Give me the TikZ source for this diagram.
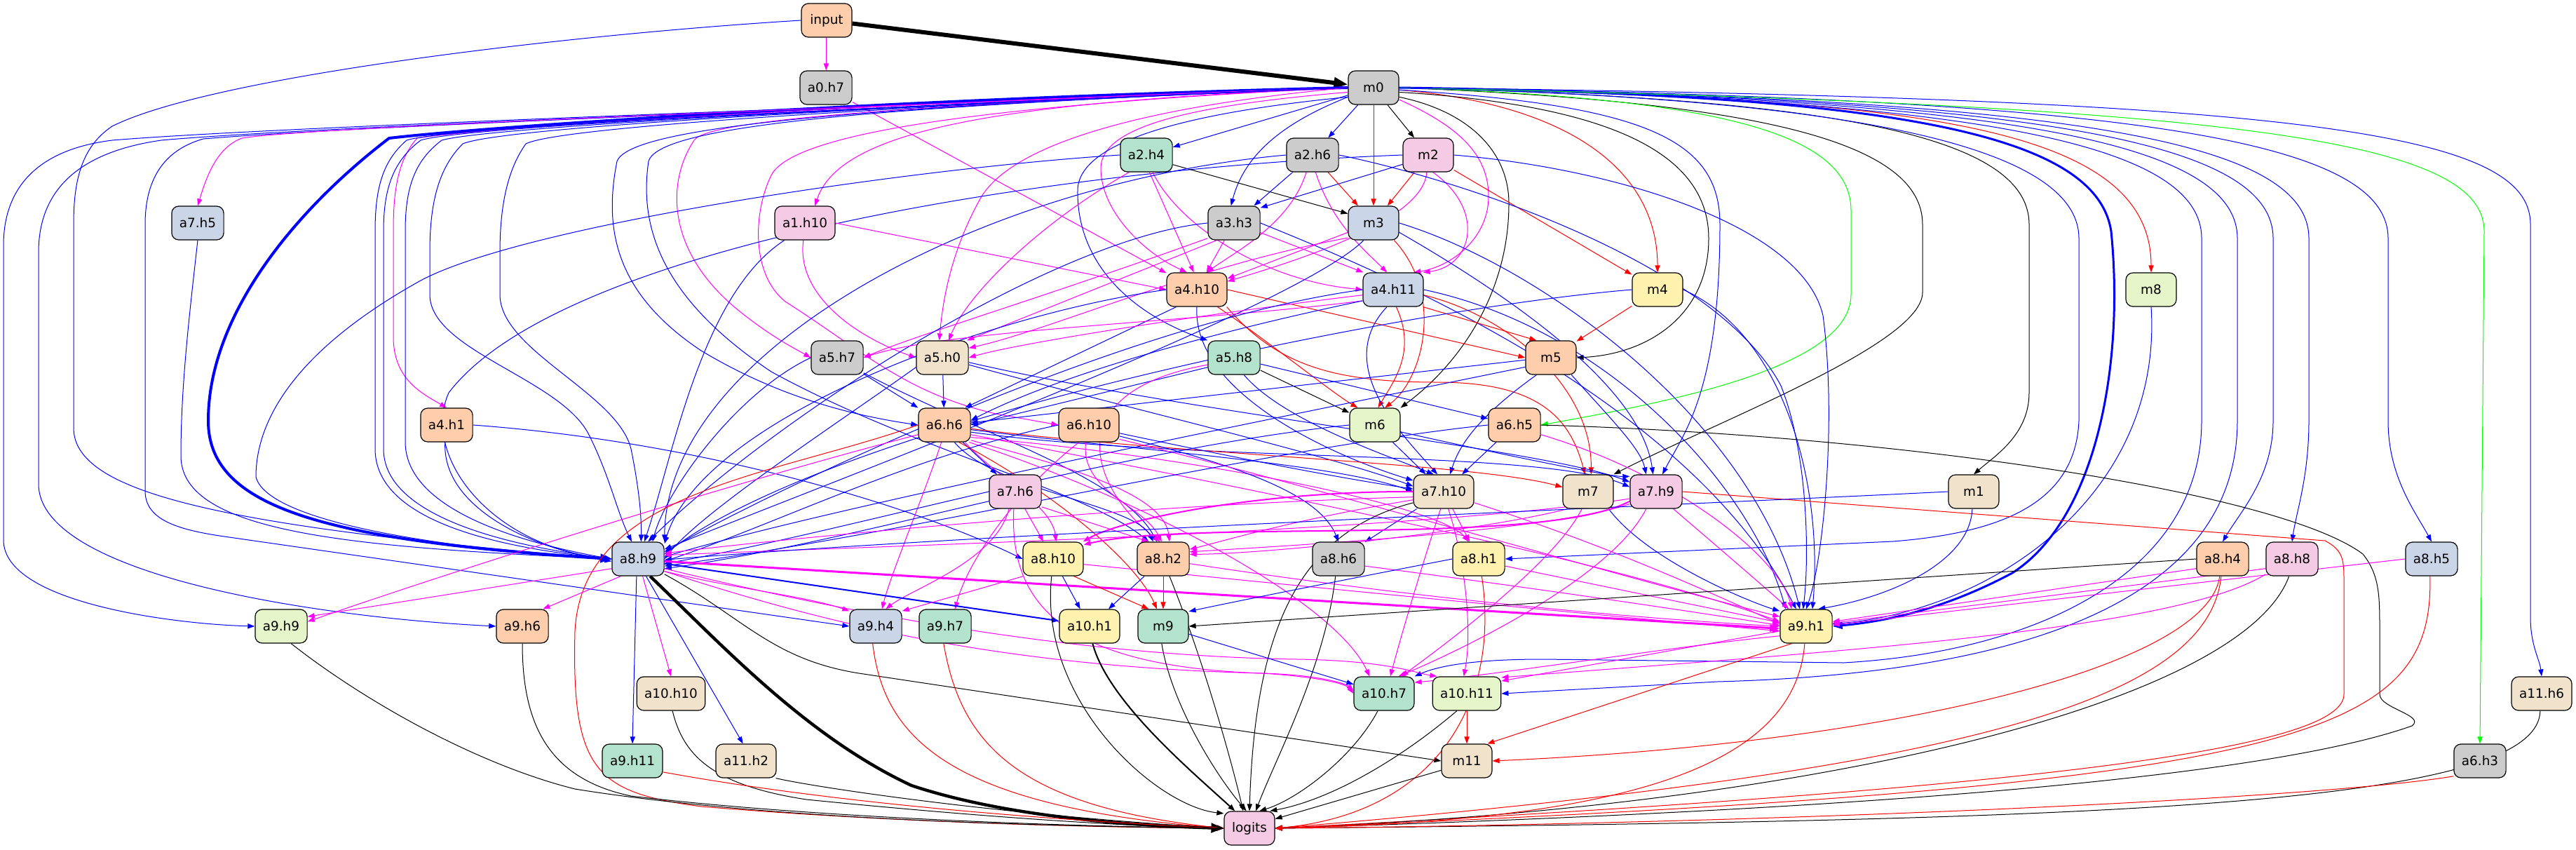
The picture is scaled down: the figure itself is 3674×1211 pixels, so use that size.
\documentclass[tikz,border=0pt]{standalone}
\usepackage{fontspec}
\newfontfamily\dvs{DejaVu Sans}
\usetikzlibrary{arrows.meta}
\definecolor{cG}{HTML}{B3E2CD}
\definecolor{cO}{HTML}{FDCDAC}
\definecolor{cB}{HTML}{CBD5E8}
\definecolor{cP}{HTML}{F4CAE4}
\definecolor{cL}{HTML}{E6F5C9}
\definecolor{cY}{HTML}{FFF2AE}
\definecolor{cT}{HTML}{F1E2CC}
\definecolor{cK}{HTML}{CCCCCC}
\definecolor{eB}{RGB}{0,0,255}
\definecolor{eM}{RGB}{255,0,255}
\definecolor{eR}{RGB}{255,0,0}
\definecolor{eG}{RGB}{0,255,0}
\pgfdeclarelayer{bg}
\pgfsetlayers{bg,main}
\newcommand{\nodefont}{\dvs\fontsize{9.2}{11}\selectfont}
\tikzset{
 nd/.style={draw=black, line width=0.6pt, rounded corners=5pt, minimum width=36pt, minimum height=24pt, inner xsep=5.5pt, inner ysep=0pt, font=\nodefont},
 ar/.style={-{Triangle[length=5pt,width=3.6pt]}, line width=0.5pt},
 B/.style={ar, draw=eB},
 M/.style={ar, draw=eM},
 R/.style={ar, draw=eR},
 K/.style={ar, draw=black},
 G/.style={ar, draw=eG},
}
\begin{document}
\begin{tikzpicture}[x=0.5pt,y=0.5pt]
\useasboundingbox (0,0) rectangle (3674,-1211);
\node[nd,fill=cO] (input) at (1179,-29) {input};
\node[nd,fill=cK] (a0h7) at (1178,-125) {a0.h7};
\node[nd,fill=cK] (m0) at (1959,-125) {m0};
\node[nd,fill=cG] (a2h4) at (1635,-221) {a2.h4};
\node[nd,fill=cK] (a2h6) at (1872,-221) {a2.h6};
\node[nd,fill=cP] (m2) at (2037,-221) {m2};
\node[nd,fill=cB] (a7h5) at (282,-318) {a7.h5};
\node[nd,fill=cP] (a1h10) at (1148,-318) {a1.h10};
\node[nd,fill=cK] (a3h3) at (1760,-318) {a3.h3};
\node[nd,fill=cB] (m3) at (1959,-318) {m3};
\node[nd,fill=cO] (a4h10) at (1707,-413) {a4.h10};
\node[nd,fill=cB] (a4h11) at (1987,-413) {a4.h11};
\node[nd,fill=cY] (m4) at (2364,-413) {m4};
\node[nd,fill=cL] (m8) at (3068,-413) {m8};
\node[nd,fill=cK] (a5h7) at (1194,-510) {a5.h7};
\node[nd,fill=cT] (a5h0) at (1344,-510) {a5.h0};
\node[nd,fill=cG] (a5h8) at (1760,-510) {a5.h8};
\node[nd,fill=cO] (m5) at (2212,-510) {m5};
\node[nd,fill=cO] (a4h1) at (637,-606) {a4.h1};
\node[nd,fill=cO] (a6h6) at (1347,-606) {a6.h6};
\node[nd,fill=cO] (a6h10) at (1553,-606) {a6.h10};
\node[nd,fill=cL] (m6) at (1961,-606) {m6};
\node[nd,fill=cO] (a6h5) at (2160,-606) {a6.h5};
\node[nd,fill=cP] (a7h6) at (1448,-701) {a7.h6};
\node[nd,fill=cT] (a7h10) at (2059,-701) {a7.h10};
\node[nd,fill=cT] (m7) at (2265,-701) {m7};
\node[nd,fill=cP] (a7h9) at (2362,-701) {a7.h9};
\node[nd,fill=cT] (m1) at (2815,-701) {m1};
\node[nd,fill=cB] (a8h9) at (910,-797) {a8.h9};
\node[nd,fill=cY] (a8h10) at (1502,-797) {a8.h10};
\node[nd,fill=cO] (a8h2) at (1659,-797) {a8.h2};
\node[nd,fill=cK] (a8h6) at (1909,-797) {a8.h6};
\node[nd,fill=cY] (a8h1) at (2109,-797) {a8.h1};
\node[nd,fill=cO] (a8h4) at (3170,-797) {a8.h4};
\node[nd,fill=cP] (a8h8) at (3269,-797) {a8.h8};
\node[nd,fill=cB] (a8h5) at (3468,-797) {a8.h5};
\node[nd,fill=cL] (a9h9) at (401,-893) {a9.h9};
\node[nd,fill=cO] (a9h6) at (745,-893) {a9.h6};
\node[nd,fill=cB] (a9h4) at (1249,-893) {a9.h4};
\node[nd,fill=cG] (a9h7) at (1348,-893) {a9.h7};
\node[nd,fill=cY] (a10h1) at (1554,-893) {a10.h1};
\node[nd,fill=cG] (m9) at (1659,-893) {m9};
\node[nd,fill=cY] (a9h1) at (2576,-893) {a9.h1};
\node[nd,fill=cT] (a10h10) at (957,-989) {a10.h10};
\node[nd,fill=cG] (a10h7) at (1974,-989) {a10.h7};
\node[nd,fill=cL] (a10h11) at (2092,-989) {a10.h11};
\node[nd,fill=cT] (a11h6) at (3625,-989) {a11.h6};
\node[nd,fill=cG] (a9h11) at (902,-1085) {a9.h11};
\node[nd,fill=cT] (a11h2) at (1064,-1085) {a11.h2};
\node[nd,fill=cT] (m11) at (2092,-1085) {m11};
\node[nd,fill=cK] (a6h3) at (3537,-1085) {a6.h3};
\node[nd,fill=cP] (logits) at (1782,-1181) {logits};
\begin{pgfonlayer}{bg}
% input
\draw[K, line width=3pt, -{Triangle[length=10pt,width=7.5pt]}] (input) -- (m0);
\draw[M] (input) -- (a0h7);
\draw[B] (input.west) .. controls (800,-50) and (300,-110) .. (160,-180) .. controls (115,-210) and (105,-260) .. (105,-320) -- (105,-610) .. controls (105,-700) and (300,-750) .. (a8h9.west);
\draw[M] (a0h7) -- (a4h10);
% m0 local
\draw[B] (m0) -- (a2h4);
\draw[B] (m0) -- (a2h6);
\draw[K] (m0) -- (m2);
\draw[R] (m0) -- (m3);
\draw[B] (m0.200) .. controls (1830,-175) and (1775,-220) .. (a3h3.100);
\draw[M] (m0.190) .. controls (1700,-150) and (1570,-180) .. (1570,-240) .. controls (1570,-300) and (1630,-360) .. (a4h10.120);
\draw[M] (m0.-25) .. controls (2080,-180) and (2123,-220) .. (2123,-280) .. controls (2123,-340) and (2070,-380) .. (a4h11.40);
\draw[R] (m0.-5) .. controls (2250,-150) and (2364,-250) .. (m4.north);
\draw[R] (m0.east) .. controls (2700,-140) and (3068,-170) .. (m8.north);
% m0 right fan
\draw[K] (m0.-10) .. controls (2300,-150) and (2437,-220) .. (2437,-340) .. controls (2437,-450) and (2350,-505) .. (m5.east);
\draw[K] (m0.-20) .. controls (2100,-160) and (2152,-220) .. (2152,-290) .. controls (2152,-420) and (2080,-520) .. (m6.north east);
\draw[K] (m0.east) .. controls (2500,-145) and (2742,-200) .. (2742,-320) -- (2742,-417) .. controls (2742,-490) and (2450,-600) .. (m7.north east);
\draw[G] (m0.east) .. controls (2450,-140) and (2640,-190) .. (2640,-300) -- (2640,-420) .. controls (2640,-520) and (2400,-570) .. (a6h5.east);
\draw[B] (m0.-5) .. controls (2350,-150) and (2453,-200) .. (2453,-320) .. controls (2453,-560) and (2400,-620) .. (a7h9.70);
\draw[K] (m0.east) .. controls (2600,-140) and (2894,-190) .. (2894,-320) -- (2894,-560) .. controls (2894,-620) and (2845,-650) .. (m1.north);
\draw[B] (m0.east) .. controls (2650,-140) and (2965,-210) .. (2965,-340) -- (2965,-600) .. controls (2960,-720) and (2850,-760) .. (2700,-772) -- (a8h1.east);
\draw[B, line width=1.5pt, -{Triangle[length=7pt,width=5pt]}] (m0.east) .. controls (2700,-135) and (2990,-190) .. (3011,-330) .. controls (3030,-520) and (2990,-740) .. (2870,-817) .. controls (2780,-865) and (2700,-885) .. (a9h1.east);
\draw[B] (m0.east) .. controls (2800,-140) and (3140,-200) .. (3140,-340) -- (3140,-600) .. controls (3140,-820) and (2900,-930) .. (2629,-945) -- (2200,-940) .. controls (2100,-940) and (2050,-950) .. (a10h7.north east);
\draw[B] (m0.east) .. controls (2850,-140) and (3191,-200) .. (3191,-340) -- (3191,-600) .. controls (3191,-850) and (2900,-960) .. (2449,-972) -- (a10h11.east);
\draw[B] (m0.east) .. controls (2900,-140) and (3242,-200) .. (3242,-340) -- (3242,-600) .. controls (3242,-680) and (3195,-730) .. (a8h4.north);
\draw[B] (m0.east) .. controls (2950,-140) and (3293,-200) .. (3293,-340) -- (3293,-600) .. controls (3293,-680) and (3275,-730) .. (a8h8.north);
\draw[B] (m0.east) .. controls (3050,-140) and (3406,-200) .. (3406,-340) -- (3406,-600) .. controls (3406,-680) and (3445,-730) .. (a8h5.north);
\draw[G] (m0.east) .. controls (3200,-150) and (3543,-200) .. (3543,-330) -- (a6h3.north);
\draw[B] (m0.east) .. controls (3300,-140) and (3609,-190) .. (3609,-320) -- (3609,-880) .. controls (3609,-920) and (3622,-940) .. (a11h6.north);
% m0 left fan
\draw[B] (m0.west) .. controls (1300,-150) and (400,-180) .. (160,-200) .. controls (40,-215) and (5,-280) .. (5,-350) -- (5,-770) .. controls (5,-860) and (250,-890) .. (a9h9.west);
\draw[B] (m0.west) .. controls (1300,-150) and (450,-180) .. (230,-200) .. controls (90,-220) and (55,-290) .. (55,-360) -- (55,-690) .. controls (55,-820) and (450,-880) .. (a9h6.west);
\draw[B] (m0.west) .. controls (1300,-150) and (500,-180) .. (290,-198) .. controls (230,-215) and (207,-260) .. (207,-320) -- (207,-700) .. controls (207,-740) and (250,-755) .. (320,-765) -- (a9h4.west);
\draw[B, line width=2pt, -{Triangle[length=8pt,width=6pt]}] (m0.west) .. controls (1300,-140) and (700,-180) .. (555,-197) .. controls (420,-300) and (297,-450) .. (297,-600) .. controls (297,-720) and (450,-770) .. (a8h9.west);
\draw[M] (m0.west) .. controls (1300,-150) and (450,-180) .. (345,-197) .. controls (310,-210) and (295,-250) .. (a7h5.north);
\draw[M] (m0.west) .. controls (1300,-145) and (700,-180) .. (595,-197) .. controls (565,-230) and (561,-280) .. (561,-330) -- (561,-480) .. controls (561,-540) and (600,-560) .. (a4h1.north);
\draw[B] (m0.west) .. controls (1300,-150) and (640,-180) .. (580,-200) .. controls (545,-230) and (535,-270) .. (535,-330) -- (535,-640) .. controls (535,-740) and (700,-780) .. (a8h9.west);
\draw[B] (m0.west) .. controls (1300,-150) and (660,-180) .. (600,-200) .. controls (560,-230) and (547,-270) .. (547,-330) -- (547,-640) .. controls (547,-730) and (700,-775) .. (a8h9.west);
\draw[B] (m0.west) .. controls (1300,-150) and (700,-180) .. (630,-200) .. controls (590,-230) and (578,-270) .. (578,-330) -- (578,-630) .. controls (578,-720) and (720,-770) .. (a8h9.west);
\draw[B] (m0.west) .. controls (1300,-150) and (720,-180) .. (660,-205) .. controls (625,-240) and (613,-290) .. (613,-360) -- (613,-420) .. controls (613,-500) and (800,-540) .. (840,-620) .. controls (870,-680) and (880,-730) .. (a8h9.110);
\draw[B] (m0.west) .. controls (1300,-150) and (800,-180) .. (750,-205) .. controls (725,-240) and (713,-290) .. (713,-360) -- (713,-420) .. controls (713,-500) and (880,-560) .. (900,-640) .. controls (910,-690) and (915,-730) .. (a8h9.80);
\draw[M] (m0.west) .. controls (1450,-145) and (1200,-180) .. (a1h10.60);
\draw[M] (m0.west) .. controls (1300,-150) and (1010,-170) .. (990,-200) .. controls (950,-260) and (950,-360) .. (1055,-444) .. controls (1100,-480) and (1130,-495) .. (a5h7.west);
\draw[M] (m0.west) .. controls (1400,-150) and (1130,-190) .. (1100,-250) .. controls (1075,-300) and (1070,-390) .. (1120,-430) .. controls (1230,-500) and (1290,-560) .. (1420,-590) -- (a6h10.west);
\draw[M] (m0.west) .. controls (1650,-150) and (1450,-200) .. (1400,-280) .. controls (1360,-350) and (1345,-420) .. (a5h0.100);
\draw[B] (m0.west) .. controls (1300,-150) and (900,-175) .. (880,-230) .. controls (860,-330) and (880,-420) .. (1000,-500) .. controls (1100,-560) and (1200,-590) .. (a6h6.west);
\draw[B] (m0.west) .. controls (1300,-150) and (940,-175) .. (925,-230) .. controls (910,-330) and (950,-430) .. (1100,-530) .. controls (1300,-640) and (1550,-700) .. (a8h2.130);
\draw[B] (m0.200) .. controls (1700,-160) and (1540,-200) .. (1537,-270) .. controls (1535,-380) and (1620,-450) .. (a5h8.north west);
% m2
\draw[B] (m2.200) -- (a3h3.30);
\draw[R] (m2) -- (m3);
\draw[M] (m2.-95) .. controls (2030,-320) and (1820,-380) .. (a4h10.15);
\draw[M] (m2.-75) .. controls (2120,-300) and (2100,-380) .. (a4h11.30);
\draw[R] (m2) -- (m4);
\draw[B] (m2.east) .. controls (2300,-240) and (2570,-320) .. (2600,-450) .. controls (2620,-600) and (2600,-800) .. (a9h1.north);
\draw[B] (m2.west) .. controls (1500,-240) and (800,-350) .. (640,-560) .. controls (600,-650) and (700,-780) .. (a8h9.west);
% a2h4
\draw[K] (a2h4.-20) -- (m3.160);
\draw[M] (a2h4.-80) -- (a4h10.100);
\draw[M] (a2h4.-70) .. controls (1680,-320) and (1800,-400) .. (a4h11.west);
\draw[M] (a2h4.-135) .. controls (1480,-320) and (1380,-420) .. (a5h0.70);
\draw[B] (a2h4.west) .. controls (1300,-240) and (750,-320) .. (600,-400) .. controls (420,-500) and (365,-600) .. (365,-680) .. controls (380,-740) and (600,-780) .. (a8h9.west);
% a2h6
\draw[B] (a2h6) -- (a3h3);
\draw[R] (a2h6) -- (m3);
\draw[M] (a2h6.-110) .. controls (1840,-320) and (1760,-360) .. (a4h10.60);
\draw[M] (a2h6.-80) .. controls (1900,-320) and (1950,-360) .. (a4h11.110);
\draw[B] (a2h6.west) .. controls (1400,-260) and (950,-500) .. (a8h9.north east);
\draw[B] (a2h6.east) .. controls (2100,-260) and (2450,-380) .. (2540,-550) .. controls (2580,-650) and (2580,-800) .. (a9h1.100);
% a1h10
\draw[M] (a1h10.east) -- (a4h10.west);
\draw[M] (a1h10.-95) .. controls (1135,-420) and (1220,-480) .. (a5h0.west);
\draw[B] (a1h10.220) .. controls (1000,-420) and (960,-650) .. (a8h9.70);
% a3h3
\draw[M] (a3h3) -- (a4h10);
\draw[M] (a3h3.-20) -- (a4h11.150);
\draw[M] (a3h3.225) -- (a5h0.35);
\draw[M] (a3h3.210) .. controls (1500,-420) and (1300,-480) .. (a5h7.east);
\draw[B] (a3h3.west) .. controls (1500,-340) and (1100,-600) .. (a8h9.60);
\draw[B] (a3h3.east) .. controls (1950,-380) and (2400,-560) .. (a9h1.120);
% m3
\draw[M] (m3.200) -- (a4h10.20);
\draw[M] (m3.210) .. controls (1700,-380) and (1500,-470) .. (a5h0.20);
\draw[R] (m3.-40) .. controls (2060,-420) and (2030,-540) .. (m6.60);
\draw[B] (m3.-120) .. controls (1850,-440) and (1150,-700) .. (a8h9.20);
\draw[B] (m3.east) .. controls (2200,-380) and (2500,-600) .. (a9h1.110);
\draw[B] (m3.-20) .. controls (2150,-420) and (2340,-550) .. (a7h9.100);
% a4h10
\draw[B] (a4h10.-140) -- (a6h6.40);
\draw[R] (a4h10.east) -- (m5.west);
\draw[R] (a4h10.-40) .. controls (1800,-480) and (1900,-560) .. (m6.135);
\draw[R] (a4h10.-30) .. controls (1820,-520) and (1900,-545) .. (2050,-545) .. controls (2200,-545) and (2240,-600) .. (m7.100);
\draw[B] (a4h10.-90) .. controls (1700,-560) and (1900,-650) .. (a7h10.160);
\draw[B] (a4h10.west) .. controls (1400,-450) and (1000,-600) .. (a8h9.30);
% a4h11
\draw[M] (a4h11.190) .. controls (1700,-450) and (1450,-490) .. (a5h0.east);
\draw[M] (a4h11.200) .. controls (1700,-460) and (1350,-470) .. (a5h7.east);
\draw[R] (a4h11.-30) -- (m5.130);
\draw[R] (a4h11.-80) .. controls (2020,-500) and (1990,-540) .. (m6.80);
\draw[R] (a4h11.-10) .. controls (2150,-450) and (2270,-550) .. (m7.80);
\draw[B] (a4h11.200) .. controls (1700,-480) and (1500,-540) .. (a6h6.10);
\draw[B] (a4h11.-110) .. controls (1900,-520) and (2000,-620) .. (a7h10.110);
\draw[B] (a4h11.west) .. controls (1600,-460) and (1100,-700) .. (a8h9.15);
\draw[B] (a4h11.east) .. controls (2300,-470) and (2500,-700) .. (a9h1.140);
% m4, m8
\draw[R] (m4) -- (m5);
\draw[B] (m4.west) .. controls (2000,-440) and (1200,-600) .. (a8h9.10);
\draw[B] (m4.east) .. controls (2550,-480) and (2600,-700) .. (a9h1.70);
\draw[B] (m8.south) .. controls (3085,-700) and (2850,-870) .. (a9h1.5);
% a5h7, a5h0, a5h8, m5
\draw[B] (a5h7) -- (a6h6.north west);
\draw[B] (a5h7.west) .. controls (1050,-560) and (950,-700) .. (a8h9.50);
\draw[B] (a5h7.-30) .. controls (1400,-620) and (1600,-680) .. (a8h2.110);
\draw[B] (a5h0) -- (a6h6);
\draw[B] (a5h0.200) .. controls (1200,-600) and (1000,-730) .. (a8h9.east);
\draw[B] (a5h0.-15) .. controls (1600,-580) and (1900,-650) .. (a7h10.170);
\draw[B] (a5h0.-10) .. controls (1700,-590) and (2200,-640) .. (a7h9.160);
\draw[K] (a5h8) -- (m6);
\draw[B] (a5h8) -- (a6h5);
\draw[B] (a5h8.-60) .. controls (1830,-600) and (1980,-650) .. (a7h10.120);
\draw[B] (a5h8.200) -- (a6h6.east);
\draw[M] (a5h8.195) .. controls (1500,-560) and (1560,-700) .. (a8h2.100);
\draw[B] (m5.185) -- (a6h6.5);
\draw[B] (m5.-130) .. controls (2100,-600) and (2080,-640) .. (a7h10.70);
\draw[B] (m5.-40) .. controls (2300,-600) and (2340,-640) .. (a7h9.120);
\draw[B] (m5.200) .. controls (1800,-600) and (1200,-720) .. (a8h9.5);
% a4h1, a7h5
\draw[B] (a4h1.-95) .. controls (630,-720) and (750,-780) .. (a8h9.185);
\draw[B] (a4h1.east) .. controls (1000,-630) and (1300,-720) .. (a8h10.west);
\draw[B] (a7h5.south) .. controls (270,-450) and (258,-550) .. (258,-650) .. controls (258,-760) and (500,-780) .. (a8h9.west);
% a6h6
\draw[B] (a6h6) -- (a7h6);
\draw[B] (a6h6.-10) .. controls (1600,-640) and (1900,-660) .. (a7h10.180);
\draw[B] (a6h6.-15) .. controls (1700,-660) and (2200,-640) .. (a7h9.170);
\draw[R] (a6h6.-8) .. controls (1700,-650) and (2100,-660) .. (m7.170);
\draw[M] (a6h6.-40) .. controls (1420,-680) and (1500,-720) .. (a8h10.80);
\draw[B] (a6h6.-60) .. controls (1420,-700) and (1620,-720) .. (a8h2.120);
\draw[M] (a6h6.-30) .. controls (1500,-660) and (1660,-700) .. (a8h2.70);
\draw[M] (a6h6.-25) .. controls (1700,-650) and (2050,-720) .. (a8h1.120);
\draw[R] (a6h6.-50) .. controls (1500,-700) and (1620,-800) .. (m9.110);
\draw[M] (a6h6.200) .. controls (1000,-700) and (600,-830) .. (a9h9.10);
\draw[M] (a6h6.-100) .. controls (1320,-700) and (1270,-820) .. (a9h4.70);
\draw[M] (a6h6.-35) .. controls (1600,-700) and (1900,-850) .. (a10h7.130);
\draw[M] (a6h6.-20) .. controls (1800,-700) and (2300,-800) .. (a9h1.170);
\draw[R] (a6h6.west) .. controls (1100,-680) and (830,-700) .. (820,-900) .. controls (815,-1100) and (850,-1130) .. (1000,-1150) .. controls (1300,-1175) and (1600,-1180) .. (logits.west);
% a6h10
\draw[B] (a6h10.-15) .. controls (1750,-650) and (1900,-680) .. (a7h10.175);
\draw[B] (a6h10.west) .. controls (1300,-650) and (1100,-750) .. (a8h9.-5);
\draw[B] (a6h10.-20) .. controls (1750,-660) and (1880,-700) .. (a8h6.north);
\draw[M] (a6h10.-100) .. controls (1540,-700) and (1630,-720) .. (a8h2.95);
\draw[M] (a6h10.-120) .. controls (1450,-700) and (1380,-800) .. (a9h7.60);
\draw[M] (a6h10.-25) .. controls (1900,-700) and (2300,-820) .. (a9h1.160);
% m6, a6h5
\draw[B] (m6) -- (a7h10);
\draw[B] (m6.west) .. controls (1600,-640) and (1200,-760) .. (a8h9.-10);
\draw[B] (m6.-15) .. controls (2150,-650) and (2300,-680) .. (a7h9.150);
\draw[B] (a6h5) -- (a7h10);
\draw[B] (a6h5.west) .. controls (1800,-640) and (1300,-760) .. (a8h9.-15);
\draw[K] (a6h5.east) .. controls (2700,-620) and (3250,-700) .. (3370,-790) .. controls (3394,-820) and (3394,-850) .. (3394,-900) -- (3394,-990) .. controls (3394,-1010) and (3460,-1020) .. (3440,-1035) .. controls (3200,-1120) and (2500,-1160) .. (logits.east);
\draw[M] (a6h5.-20) .. controls (2400,-680) and (2540,-800) .. (a9h1.130);
% a7h6
\draw[M] (a7h6) -- (a8h10);
\draw[M] (a7h6.-30) -- (a8h2.130);
\draw[M] (a7h6.-95) .. controls (1440,-850) and (1500,-950) .. (1800,-960) .. controls (1880,-965) and (1920,-975) .. (a10h7.west);
\draw[M] (a7h6.-110) .. controls (1420,-800) and (1300,-840) .. (a9h4.60);
\draw[B] (a7h6.200) .. controls (1300,-740) and (1100,-790) .. (a8h9.-20);
% a7h10
\draw[M, line width=1pt] (a7h10.west) .. controls (1800,-700) and (1600,-740) .. (a8h10.30);
\draw[M] (a7h10.195) .. controls (1850,-740) and (1750,-770) .. (a8h2.20);
\draw[B] (a7h10) -- (a8h6);
\draw[M] (a7h10) -- (a8h1);
\draw[M] (a7h10.-100) .. controls (2030,-800) and (2000,-900) .. (a10h7.70);
\draw[M] (a7h10.-75) .. controls (2090,-800) and (2100,-900) .. (a10h11.100);
\draw[K] (a7h10.200) .. controls (1850,-760) and (1790,-900) .. (logits.north);
\draw[M] (a7h10.190) .. controls (1600,-720) and (1100,-770) .. (a8h9.12);
\draw[M] (a7h10.-20) .. controls (2300,-780) and (2450,-850) .. (a9h1.175);
% m7
\draw[M] (m7.-110) .. controls (2220,-800) and (2060,-920) .. (a10h7.45);
\draw[M] (m7.220) .. controls (2100,-760) and (1800,-790) .. (a8h2.10);
\draw[B] (m7.-40) .. controls (2350,-800) and (2500,-860) .. (a9h1.150);
% a7h9
\draw[M, line width=1pt] (a7h9.200) .. controls (2200,-780) and (1700,-740) .. (a8h10.25);
\draw[M] (a7h9.205) .. controls (2200,-760) and (1800,-780) .. (a8h2.15);
\draw[M] (a7h9.-120) .. controls (2300,-820) and (2100,-920) .. (a10h7.50);
\draw[M] (a7h9.-45) .. controls (2450,-780) and (2520,-840) .. (a9h1.135);
\draw[R] (a7h9.east) -- (3316,-771) .. controls (3343,-785) and (3343,-800) .. (3343,-830) -- (3343,-990) .. controls (3343,-1060) and (3000,-1120) .. (logits.east);
\draw[M] (a7h9.195) .. controls (2000,-760) and (1200,-780) .. (a8h9.8);
% m1
\draw[B] (m1.-95) .. controls (2810,-800) and (2700,-850) .. (a9h1.55);
\draw[B] (m1.west) .. controls (2400,-720) and (1400,-760) .. (a8h9.-2);
% a8h9
\draw[M] (a8h9.200) -- (a9h9.20);
\draw[M] (a8h9.-135) -- (a9h6.40);
\draw[M] (a8h9.-25) .. controls (1050,-840) and (1150,-850) .. (a9h4.150);
\draw[M] (a8h9.-75) -- (a10h10.north);
\draw[B] (a8h9.-95) -- (a9h11.north);
\draw[B] (a8h9.-65) -- (a11h2.100);
\draw[K, line width=2.2pt, -{Triangle[length=9pt,width=6.5pt]}] (a8h9.-55) .. controls (1030,-920) and (1150,-1050) .. (1300,-1120) .. controls (1450,-1170) and (1650,-1178) .. (logits.west);
\draw[K] (a8h9.-30) .. controls (1060,-880) and (1100,-940) .. (1225,-960) -- (m11.west);
\draw[B, line width=1pt] (a8h9.-10) -- (a10h1.170);
\draw[M, line width=1.5pt, -{Triangle[length=7pt,width=5pt]}] (a8h9.-5) -- (a9h1.185);
\draw[M] (a8h9.-25) .. controls (1150,-880) and (1400,-950) .. (1800,-960) .. controls (1880,-962) and (1920,-975) .. (a10h7.175);
\draw[M] (a8h9.-20) .. controls (1150,-860) and (1500,-935) .. (1850,-940) .. controls (1980,-942) and (2020,-960) .. (a10h11.150);
% a8h10, a8h2, a8h6, a8h1
\draw[M] (a8h10.-150) -- (a9h4.30);
\draw[B] (a8h10) -- (a10h1);
\draw[R] (a8h10.-40) -- (m9.130);
\draw[K] (a8h10.-95) .. controls (1480,-1000) and (1650,-1150) .. (logits.150);
\draw[M] (a8h10.-10) .. controls (1800,-830) and (2300,-880) .. (a9h1.190);
\draw[B] (a8h2) -- (a10h1);
\draw[R] (a8h2) -- (m9);
\draw[K] (a8h2.-70) .. controls (1720,-950) and (1760,-1100) .. (logits.110);
\draw[M] (a8h2.-10) .. controls (2000,-850) and (2300,-880) .. (a9h1.180);
\draw[K] (a8h6.-100) .. controls (1890,-950) and (1820,-1080) .. (logits.70);
\draw[M] (a8h6.-15) .. controls (2200,-840) and (2400,-870) .. (a9h1.178);
\draw[B] (a8h1.west) .. controls (1900,-830) and (1750,-860) .. (m9.30);
\draw[R] (a8h1.-80) .. controls (2140,-1000) and (2050,-1160) .. (logits.east);
\draw[M] (a8h1.-15) -- (a9h1.172);
% a8h4, a8h8, a8h5
\draw[M] (a8h4.200) -- (a9h1.10);
\draw[K] (a8h4.west) -- (m9.east);
\draw[R] (a8h4.-100) .. controls (3150,-950) and (2700,-1060) .. (m11.east);
\draw[R] (a8h4.-95) .. controls (3150,-1000) and (2800,-1100) .. (logits.east);
\draw[M] (a8h8.200) -- (a9h1.7);
\draw[M] (a8h8.-150) .. controls (3100,-900) and (2600,-930) .. (a10h11.25);
\draw[K] (a8h8.-100) .. controls (3200,-1000) and (2600,-1150) .. (logits.east);
\draw[M] (a8h5.west) -- (a9h1.3);
\draw[R] (a8h5.-95) .. controls (3470,-1050) and (3300,-1120) .. (logits.east);
% rank 9 and below
\draw[K] (a9h9.-60) .. controls (520,-1000) and (680,-1090) .. (820,-1125) .. controls (1100,-1170) and (1500,-1178) .. (logits.west);
\draw[K] (a9h6.south) .. controls (745,-1030) and (780,-1110) .. (900,-1135) .. controls (1150,-1165) and (1500,-1178) .. (logits.west);
\draw[R] (a9h4.-100) .. controls (1260,-1050) and (1350,-1150) .. (logits.west);
\draw[R] (a9h7.-95) .. controls (1370,-1060) and (1450,-1150) .. (logits.west);
\draw[K, line width=1pt] (a10h1.-80) .. controls (1580,-1000) and (1700,-1100) .. (logits.130);
\draw[K] (m9.-95) .. controls (1670,-1000) and (1730,-1100) .. (logits.100);
\draw[B] (m9) -- (a10h7);
\draw[M] (a9h1.200) .. controls (2400,-920) and (2150,-960) .. (a10h7.20);
\draw[M] (a9h1.190) -- (a10h11.20);
\draw[R] (a9h1.-130) -- (m11.40);
\draw[R] (a9h1.-95) .. controls (2560,-1100) and (2300,-1170) .. (logits.east);
\draw[K] (a10h10.-85) .. controls (975,-1080) and (1020,-1120) .. (1150,-1140) .. controls (1400,-1165) and (1600,-1178) .. (logits.west);
\draw[K] (a10h7.-110) .. controls (1930,-1080) and (1850,-1140) .. (logits.60);
\draw[R] (a10h11) -- (m11);
\draw[K] (a10h11.-120) .. controls (2000,-1080) and (1900,-1140) .. (logits.40);
\draw[K] (a11h6.-95) .. controls (3620,-1150) and (3000,-1170) .. (logits.east);
\draw[R] (a9h11.-20) .. controls (1050,-1120) and (1300,-1160) .. (logits.west);
\draw[K] (a11h2.-30) .. controls (1150,-1120) and (1400,-1160) .. (logits.west);
\draw[K] (m11.200) -- (logits.20);
\draw[R] (a6h3.-150) .. controls (3300,-1140) and (2500,-1175) .. (logits.east);
\end{pgfonlayer}
\end{tikzpicture}
\end{document}
